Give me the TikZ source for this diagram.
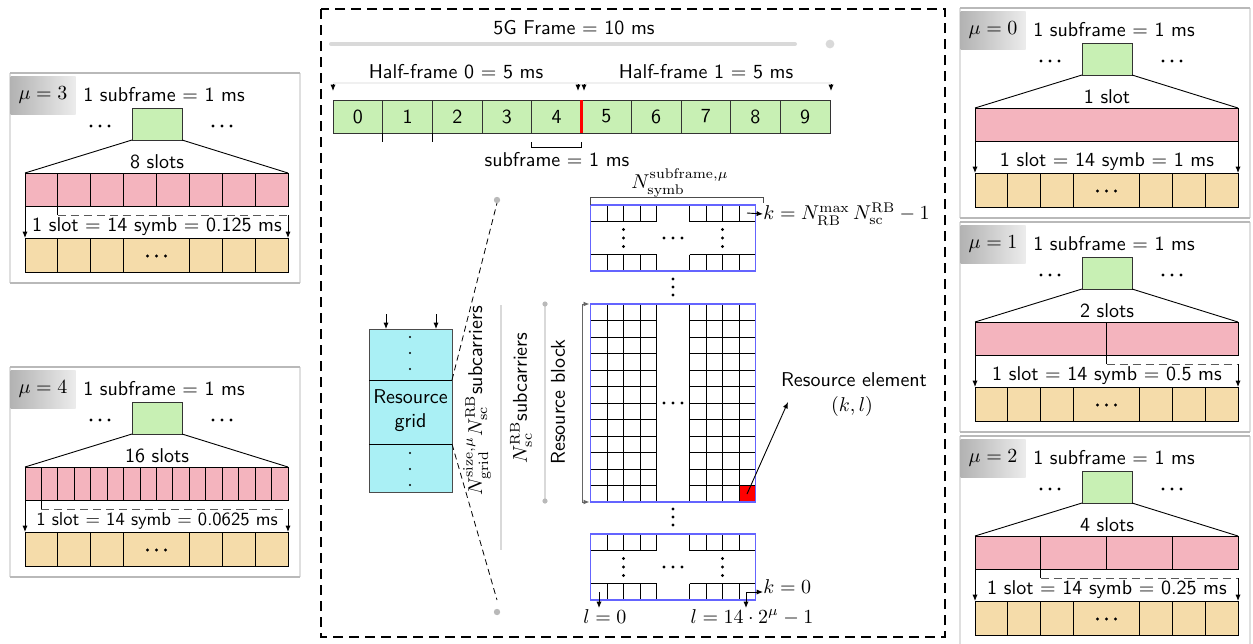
\documentclass[tikz,border=0pt]{standalone}
\usepackage{amsmath}
\usetikzlibrary{arrows.meta,calc}
\renewcommand{\familydefault}{\sfdefault}
\definecolor{sfgreen}{HTML}{C8F0B4}
\definecolor{slotpink}{HTML}{F4B4BE}
\definecolor{symbyellow}{HTML}{F5DCAA}
\definecolor{rgcyan}{HTML}{AAF0F5}
\definecolor{rbblue}{HTML}{6464FF}
\definecolor{ghost}{gray}{0.85}
\tikzset{
  txt/.style={inner sep=0pt},
  tip/.style={-{Latex[length=3.2pt,width=2.6pt]}},
  thinline/.style={line width=0.45pt},
  ghostline/.style={draw=ghost, line width=1.3pt},
  panelframe/.style={draw=gray!55, line width=0.9pt},
  panelside/.style={draw=gray!25, line width=0.9pt},
  mulabel/.style={inner sep=0pt, minimum width=32.5pt, minimum height=19pt, left color=gray!60, right color=gray!15},
  greenbox/.style={draw=black!80, fill=sfgreen, minimum width=25pt, minimum height=16pt, inner sep=0pt, outer sep=0pt},
  fcell/.style={draw=black!80, fill=sfgreen, minimum width=24.85pt, minimum height=16.5pt, inner sep=0pt, outer sep=0pt},
  rgbox/.style={draw=black!70, fill=rgcyan, minimum width=41.5pt, minimum height=81.5pt, inner sep=0pt, outer sep=0pt, align=center},
  outerdash/.style={line width=1.3pt, dash pattern=on 5pt off 3pt},
  zoomdash/.style={line width=0.4pt, dash pattern=on 3pt off 2pt},
  slotdash/.style={draw=black!65, line width=0.4pt, dash pattern=on 4pt off 2.5pt},
  blk/.style={draw=rbblue, line width=0.6pt, inner sep=0pt, outer sep=0pt, minimum width=82.5pt},
}
\newcommand{\hdotz}[3][0.8pt]{\foreach \dd in {-9,0,9}{\fill ({#2+\dd},#3) circle (#1);}}
\newcommand{\vdotz}[4][0.8pt]{\foreach \dd in {-1,0,1}{\fill (#2,{#3+\dd*#4}) circle (#1);}}
\newcommand{\mupanel}[7]{%
\begin{scope}[shift={(#1,#2)}]
  \draw[panelside] (2,0) -- (2,210) (292,0) -- (292,210);
  \draw[panelframe] (2,0) -- (292,0) (2,210) -- (292,210);
  \node[mulabel] (lab#3) at (35,22) {$\mu=#3$};
  \node[txt] (sf#3) at (156,22) {1 subframe $=$ 1 ms};
  \node[greenbox] (g#3) at (149,51) {};
  \hdotz{92}{53}\hdotz{214}{53}
  \coordinate (pl#3) at (17,100);
  \coordinate (pr#3) at (280,100);
  \draw[thinline] (g#3.south west) -- (pl#3);
  \draw[thinline] (g#3.south east) -- (pr#3);
  \node[txt] (sl#3) at (149,89) {#5};
  \pgfmathsetmacro{\sw}{263/#4}
  \pgfmathtruncatemacro{\nm}{#4-1}
  \draw[thinline, fill=slotpink] (17,100) rectangle (280,133);
  \ifnum#4>1
    \foreach \i in {1,...,\nm} {\draw[thinline] ({17+\i*\sw},100) -- ({17+\i*\sw},133);}
    \draw[thinline] ({17+\sw},133) -- ({17+\sw},142);
    \draw[slotdash] ({17+\sw},142) -- (280,142);
    \draw[tip, thinline] (280,142) -- (280,165);
  \else
    \draw[tip, thinline] (280,133) -- (280,165);
  \fi
  \draw[tip, thinline] (17,133) -- (17,165);
  \node[txt, scale=#7] (sy#3) at (149,154) {#6};
  \draw[thinline, fill=symbyellow] (17,165) rectangle (280,199);
  \foreach \k in {1,2,3,5,6,7} {\draw[thinline] ({17+\k*32.875},165) -- ({17+\k*32.875},199);}
  \hdotz{148.5}{183}
\end{scope}}
\begin{document}
\begin{tikzpicture}[x=0.5pt,y=-0.5pt]
\useasboundingbox (0,0) rectangle (1253,643);
% ---------- side panels ----------
\mupanel{8}{73}{3}{8}{8 slots}{1 slot $=$ 14 symb $=$ 0.125 ms}{1}
\mupanel{8}{367}{4}{16}{16 slots}{1 slot $=$ 14 symb $=$ 0.0625 ms}{0.93}
\mupanel{958}{8}{0}{1}{1 slot}{1 slot $=$ 14 symb $=$ 1 ms}{1}
\mupanel{958}{222}{1}{2}{2 slots}{1 slot $=$ 14 symb $=$ 0.5 ms}{1}
\mupanel{958}{436}{2}{4}{4 slots}{1 slot $=$ 14 symb $=$ 0.25 ms}{1}
% ---------- central box ----------
\draw[outerdash] (321,9) rectangle (945,637);
\node[txt] (frame) at (574,28) {5G Frame $=$ 10 ms};
\draw[ghostline, line width=2pt, line cap=round] (331,44) -- (795,44);
\fill[ghost] (830,44) circle (2.2pt);
\node[txt] (hf0) at (456,72) {Half-frame 0 $=$ 5 ms};
\node[txt] (hf1) at (706,72) {Half-frame 1 $=$ 5 ms};
\draw[ghostline, draw=gray!12] (333,83) -- (578,83);
\draw[ghostline, draw=gray!12] (585,83) -- (831,83);
\coordinate (t0) at (333,91); \coordinate (t1) at (578,91);
\coordinate (t2) at (584,91); \coordinate (t3) at (831,91);
\foreach \t in {t0,t1,t2,t3} {\draw[tip, thinline] ([yshift=3.5pt]\t) -- (\t);}
\foreach \i in {0,...,9} {\node[fcell] (c\i) at ({333+24.85+\i*49.7},116.5) {\i};}
\draw[red, line width=1.2pt] (c4.north east) -- (c4.south east);
\draw[thinline] (c0.south east) -- ++(0,9);
\draw[thinline] (c1.south east) -- ++(0,9);
\draw[thinline] ([yshift=-4.5pt]c4.south west) -- ([yshift=-7pt]c4.south west) -- ([yshift=-7pt]c4.south east) -- ([yshift=-4.5pt]c4.south east);
\node[txt] (sub) at (557,160) {subframe $=$ 1 ms};
% ---------- resource grid ----------
\node[rgbox] (rg) at (410.5,410.5) {Resource\\grid};
\draw[thinline] ([yshift=-25.5pt]rg.north west) coordinate (d1w) -- ([yshift=-25.5pt]rg.north east) coordinate (d1e);
\draw[thinline] ([yshift=-57.5pt]rg.north west) coordinate (d2w) -- ([yshift=-57.5pt]rg.north east) coordinate (d2e);
\vdotz[0.6pt]{410}{353}{16}
\vdotz[0.6pt]{410}{469}{16}
\coordinate (a1) at (386,329); \coordinate (a2) at (436,329);
\draw[tip, thinline] ([yshift=7.5pt]a1) -- (a1);
\draw[tip, thinline] ([yshift=7.5pt]a2) -- (a2);
\coordinate (zt) at (497,203); \coordinate (zb) at (497,600);
\draw[zoomdash] (d1e) -- (zt);
\draw[zoomdash] (d2e) -- (zb);
% ghost residues
\draw[ghostline] (501,305) -- (501,550);
\draw[ghostline] (545,305) -- (545,500);
\fill[gray!55] (497,200) circle (1.6pt);
\fill[gray!55] (497,612) circle (1.6pt);
\fill[gray!55] (545,304) circle (1.3pt);
\fill[gray!55] (545,501) circle (1.3pt);
\node[txt, rotate=90] (nsize) at (477,401) {$N^{\mathrm{size},\mu}_{\mathrm{grid}}N^{\mathrm{RB}}_{\mathrm{sc}}$subcarriers};
\node[txt, rotate=90] (nsc) at (521,398) {$N^{\mathrm{RB}}_{\mathrm{sc}}$subcarriers};
\node[txt, rotate=90] (rblk) at (558,402) {Resource block};
% ---------- resource blocks ----------
% top block
\foreach \x in {607,623.5,640,656.5,689.5,706,722.5,739} {
  \draw[thinline] (\x,205) -- (\x,221.5);
  \draw[thinline] (\x,254.5) -- (\x,271);
}
\draw[thinline] (590.5,221.5) -- (656.5,221.5) (689.5,221.5) -- (755.5,221.5);
\draw[thinline] (590.5,254.5) -- (656.5,254.5) (689.5,254.5) -- (755.5,254.5);
\node[blk, minimum height=33pt] (tb) at (673,238) {};
\vdotz{623.5}{238}{8.5}\vdotz{722.5}{238}{8.5}
\hdotz[0.8pt]{673}{238}
% middle block
\fill[red] (739,485.5) rectangle (755.5,502);
\foreach \x in {607,623.5,640,656.5,689.5,706,722.5,739} {\draw[thinline] (\x,304) -- (\x,502);}
\foreach \k in {1,...,11} {\draw[thinline] (590.5,{304+16.5*\k}) -- (656.5,{304+16.5*\k}) (689.5,{304+16.5*\k}) -- (755.5,{304+16.5*\k});}
\node[blk, minimum height=99pt] (mb) at (673,403) {};
\hdotz{673}{403}
% bottom block
\foreach \x in {607,623.5,640,656.5,689.5,706,722.5,739} {
  \draw[thinline] (\x,534) -- (\x,550.5);
  \draw[thinline] (\x,583.5) -- (\x,600);
}
\draw[thinline] (590.5,550.5) -- (656.5,550.5) (689.5,550.5) -- (755.5,550.5);
\draw[thinline] (590.5,583.5) -- (656.5,583.5) (689.5,583.5) -- (755.5,583.5);
\node[blk, minimum height=33pt] (bb) at (673,567) {};
\vdotz{623.5}{567}{8.5}\vdotz{722.5}{567}{8.5}
\hdotz{673}{567}
% dots between blocks
\vdotz{673}{287}{8}
\vdotz{673}{517}{8}
% resource block bracket
\draw[{Latex[length=3pt,width=2.4pt]}-{Latex[length=3pt,width=2.4pt]}, draw=black!60, thinline] ([xshift=-0.5pt]mb.north west) -- ++(-7,0) |- ([xshift=-0.5pt]mb.south west);
% top bracket and labels
\draw[thinline, draw=black!70] (tb.north west) -- ++(0,-8) -| (763,203);
\node[txt] (nsym) at (680,183) {$N^{\mathrm{subframe},\mu}_{\mathrm{symb}}$};
\node[txt, anchor=west] (ktop) at (763,214) {$k=N^{\mathrm{max}}_{\mathrm{RB}}\,N^{\mathrm{RB}}_{\mathrm{sc}}-1$};
\coordinate (ctr) at (747,213);
\draw[tip, thinline] (ctr) -- (ktop.west);
% resource element
\node[txt] (rel) at (854,380) {Resource element};
\node[txt] (kl) at (852,406) {$(k,l)$};
\coordinate (red) at (747,494);
\coordinate (relp) at (788,402);
\draw[tip, thinline] (red) -- (relp);
% bottom labels
\node[txt] (l0) at (605,617) {$l=0$};
\node[txt] (lmax) at (752,617) {$l=14\cdot2^{\mu}-1$};
\node[txt, anchor=west] (k0) at (763,587) {$k=0$};
\coordinate (cbl) at (599,592);
\coordinate (cbr) at (746,592);
\draw[tip, thinline] (cbl) -- (599,608);
\draw[tip, thinline] (cbr) -- (746,608);
\draw[tip, thinline] (cbr) -- (763,592);
\end{tikzpicture}
\end{document}
